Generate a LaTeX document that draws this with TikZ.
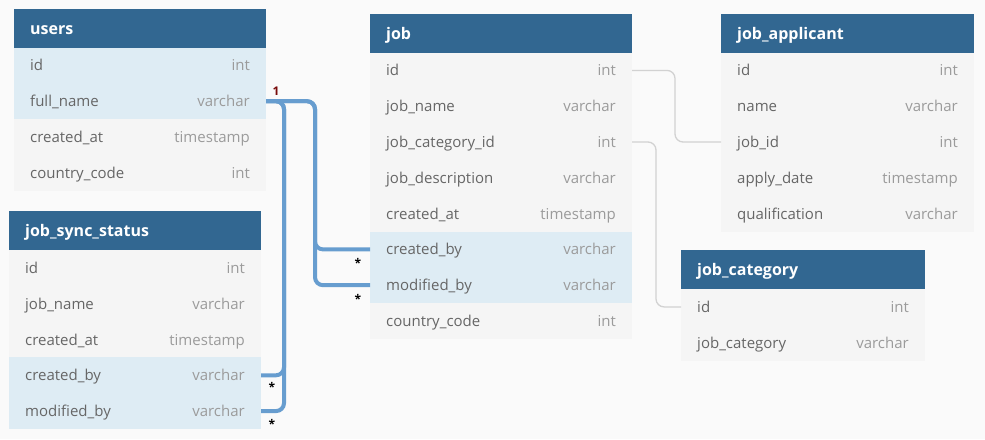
\documentclass[tikz,border=0pt]{standalone}
\usepackage{fontspec}
\setmainfont{Open Sans}
\usetikzlibrary{calc}
\definecolor{hdr}{RGB}{50,103,145}
\definecolor{rowbg}{RGB}{245,245,245}
\definecolor{rowhl}{RGB}{222,236,244}
\definecolor{fieldc}{RGB}{102,102,102}
\definecolor{typec}{RGB}{155,155,155}
\definecolor{bgc}{RGB}{250,250,250}
\definecolor{relblue}{RGB}{103,157,207}
\definecolor{relgrey}{RGB}{210,210,210}
\definecolor{onec}{RGB}{120,10,10}
\tikzset{
 rowbox/.style={rectangle, fill=rowbg, draw=none, minimum height=35.8pt, inner sep=0pt, outer sep=0pt},
 hlrow/.style={fill=rowhl},
 plainrow/.style={},
 hdrbox/.style={rectangle, fill=hdr, draw=none, minimum height=39pt, inner sep=0pt, outer sep=0pt},
 hdrtxt/.style={text=white, font=\fontsize{16}{19}\selectfont\bfseries, inner sep=0pt},
 fieldtxt/.style={text=fieldc, font=\fontsize{15}{18}\selectfont, inner sep=0pt},
 typetxt/.style={text=typec, font=\fontsize{15}{18}\selectfont, inner sep=0pt},
 relthick/.style={draw=relblue, line width=4pt, rounded corners=8pt},
 relthin/.style={draw=relgrey, line width=1.3pt, rounded corners=8pt},
 cardone/.style={text=onec, font=\fontsize{12}{14}\selectfont\bfseries, inner sep=0pt},
 cardmany/.style={text=black, font=\fontsize{12}{13}\selectfont\bfseries, inner sep=0pt},
}
\newcommand\dbhead[5]{%
 \node[hdrbox, minimum width=#4pt, anchor=north west] (#1) at (#2,#3) {};
 \node[hdrtxt, anchor=base west] (#1-title) at ([xshift=16pt,yshift=-6pt]#1.west) {#5};}
\newcommand\dbrow[7]{%
 \node[rowbox, #7, minimum width=#4pt, anchor=north west] (#1) at (#2,#3) {};
 \node[fieldtxt, anchor=base west] (#1-f) at ([xshift=16pt,yshift=-5.5pt]#1.west) {#5};
 \node[typetxt, anchor=base east] (#1-t) at ([xshift=-16pt,yshift=-5.5pt]#1.east) {#6};}
\begin{document}
\begin{tikzpicture}[x=1pt,y=-1pt]
\useasboundingbox (0,0) rectangle (985,439);
\fill[bgc] (0,0) rectangle (985,439);
% users
\dbhead{users}{14}{8.5}{252}{users}
\dbrow{users-id}{14}{47.5}{252}{id}{int}{hlrow}
\dbrow{users-fullname}{14}{83.3}{252}{full\_name}{varchar}{hlrow}
\dbrow{users-createdat}{14}{119.1}{252}{created\_at}{timestamp}{plainrow}
\dbrow{users-cc}{14}{154.9}{252}{country\_code}{int}{plainrow}
% job_sync_status
\dbhead{jss}{9}{211}{252}{job\_sync\_status}
\dbrow{jss-id}{9}{250}{252}{id}{int}{plainrow}
\dbrow{jss-jobname}{9}{285.8}{252}{job\_name}{varchar}{plainrow}
\dbrow{jss-createdat}{9}{321.6}{252}{created\_at}{timestamp}{plainrow}
\dbrow{jss-createdby}{9}{357.4}{252}{created\_by}{varchar}{hlrow}
\dbrow{jss-modifiedby}{9}{393.2}{252}{modified\_by}{varchar}{hlrow}
% job
\dbhead{job}{370}{13.5}{262}{job}
\dbrow{job-id}{370}{52.5}{262}{id}{int}{plainrow}
\dbrow{job-jobname}{370}{88.3}{262}{job\_name}{varchar}{plainrow}
\dbrow{job-catid}{370}{124.1}{262}{job\_category\_id}{int}{plainrow}
\dbrow{job-desc}{370}{159.9}{262}{job\_description}{varchar}{plainrow}
\dbrow{job-createdat}{370}{195.7}{262}{created\_at}{timestamp}{plainrow}
\dbrow{job-createdby}{370}{231.5}{262}{created\_by}{varchar}{hlrow}
\dbrow{job-modifiedby}{370}{267.3}{262}{modified\_by}{varchar}{hlrow}
\dbrow{job-cc}{370}{303.1}{262}{country\_code}{int}{plainrow}
% job_applicant
\dbhead{ja}{721}{13.5}{253}{job\_applicant}
\dbrow{ja-id}{721}{52.5}{253}{id}{int}{plainrow}
\dbrow{ja-name}{721}{88.3}{253}{name}{varchar}{plainrow}
\dbrow{ja-jobid}{721}{124.1}{253}{job\_id}{int}{plainrow}
\dbrow{ja-applydate}{721}{159.9}{253}{apply\_date}{timestamp}{plainrow}
\dbrow{ja-qual}{721}{195.7}{253}{qualification}{varchar}{plainrow}
% job_category
\dbhead{jc}{681}{250}{244}{job\_category}
\dbrow{jc-id}{681}{289}{244}{id}{int}{plainrow}
\dbrow{jc-cat}{681}{324.8}{244}{job\_category}{varchar}{plainrow}
% bus coordinates
\coordinate (busA) at (284,0);
\coordinate (busB) at (315,0);
\coordinate (greyA) at (675,0);
\coordinate (greyB) at (656,0);
% thick relations
\draw[relthick] (users-fullname.east) -| (busA |- jss-createdby.east) -- (jss-createdby.east);
\draw[relthick] (users-fullname.east) -| (busA |- jss-modifiedby.east) -- (jss-modifiedby.east);
\draw[relthick] (users-fullname.east) -| (busB |- job-createdby.west) -- (job-createdby.west);
\draw[relthick] (users-fullname.east) -| (busB |- job-modifiedby.west) -- (job-modifiedby.west);
% thin relations
\draw[relthin] (job-id.east) -| (greyA |- ja-jobid.west) -- (ja-jobid.west);
\draw[relthin] (job-catid.east) -| (greyB |- jc-id.west) -- (jc-id.west);
% cardinalities
\node[cardone] (one) at (276,91) {1};
\node[cardmany] (m1) at (358,262.5) {*};
\node[cardmany] (m2) at (358,298.5) {*};
\node[cardmany] (m3) at (272,387) {*};
\node[cardmany] (m4) at (272,423.5) {*};
\end{tikzpicture}
\end{document}
